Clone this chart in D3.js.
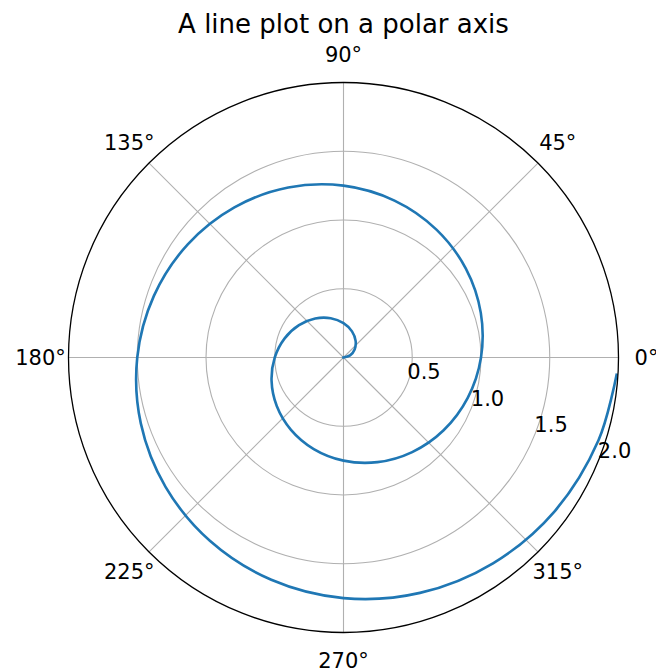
<!DOCTYPE html>
<html><head><meta charset="utf-8">
<script src="https://cdn.jsdelivr.net/npm/d3@7"></script>
<style>body{margin:0;background:#fff}svg{display:block}text{font-family:"DejaVu Sans",sans-serif;fill:#000}</style>
</head><body><svg id="c" width="656" height="672"></svg>
<script>
// spiral samples: radius and angle (deg, counter-clockwise from 0°)
const rValues = [0,0.05,0.1,0.15,0.2,0.25,0.3,0.35,0.4,0.45,0.5,0.55,0.6,0.65,0.7,0.75,0.8,0.85,0.9,0.95,1.0,1.05,1.1,1.15,1.2,1.25,1.3,1.35,1.4,1.45,1.5,1.55,1.6,1.65,1.7,1.75,1.8,1.85,1.9,1.95,1.99];
const thetaDeg = [0,18,36,54,72,90,108,126,144,162,180,198,216,234,252,270,288,306,324,342,360,378,396,414,432,450,468,486,504,522,540,558,576,594,612,630,648,666,684,702,716.4];
const rTicks = [0.5,1.0,1.5,2.0];
const rTickLabels = ["0.5","1.0","1.5","2.0"];
const angleTicks = [0,45,90,135,180,225,270,315];
const angleTickLabels = ["0°","45°","90°","135°","180°","225°","270°","315°"];
const title = "A line plot on a polar axis";

const cx = 343.5, cy = 357.5, R = 275;
const svg = d3.select("#c");
const r = d3.scaleLinear().domain([0,2]).range([0,R]);
const rad = d => d*Math.PI/180;
const g = svg.append("g").attr("transform",`translate(${cx},${cy})`);

// radial gridlines (rings)
g.selectAll("circle.grid").data(rTicks.slice(0,-1)).join("circle")
  .attr("r", d=>r(d)).attr("fill","none").attr("stroke","#b0b0b0").attr("stroke-width",1.1);
// spokes
g.selectAll("line.spoke").data(angleTicks).join("line")
  .attr("x1",0).attr("y1",0)
  .attr("x2",d=>R*Math.cos(rad(d))).attr("y2",d=>-R*Math.sin(rad(d)))
  .attr("stroke","#b0b0b0").attr("stroke-width",1.1);

// data line
const data = rValues.map((v,i)=>({r:v,t:thetaDeg[i]}));
const line = d3.lineRadial().angle(d=>Math.PI/2 - rad(d.t)).radius(d=>r(d.r)).curve(d3.curveCatmullRom.alpha(0.5));
g.append("path").datum(data).attr("d",line).attr("fill","none")
  .attr("stroke","#1f77b4").attr("stroke-width",2.6).attr("stroke-linejoin","round").attr("stroke-linecap","square");

// outer spine
g.append("circle").attr("r",R).attr("fill","none").attr("stroke","#000").attr("stroke-width",1.3);

// angle labels
g.selectAll("text.ang").data(angleTicks).join("text")
  .attr("x",d=>303*Math.cos(rad(d))).attr("y",d=>-303*Math.sin(rad(d)))
  .attr("text-anchor","middle").attr("dominant-baseline","central")
  .style("font-size","21px").text((d,i)=>angleTickLabels[i]);

// radial labels at -22.5°
const la = rad(-22.5);
g.selectAll("text.rl").data(rTicks).join("text")
  .attr("x",d=>r(d)*Math.cos(la)+17).attr("y",d=>-r(d)*Math.sin(la)-11.5)
  .attr("text-anchor","middle").attr("dominant-baseline","central")
  .style("font-size","21px").text((d,i)=>rTickLabels[i]);

svg.append("text").attr("x",cx).attr("y",33).attr("text-anchor","middle")
  .style("font-size","26px").text(title);
</script></body></html>
